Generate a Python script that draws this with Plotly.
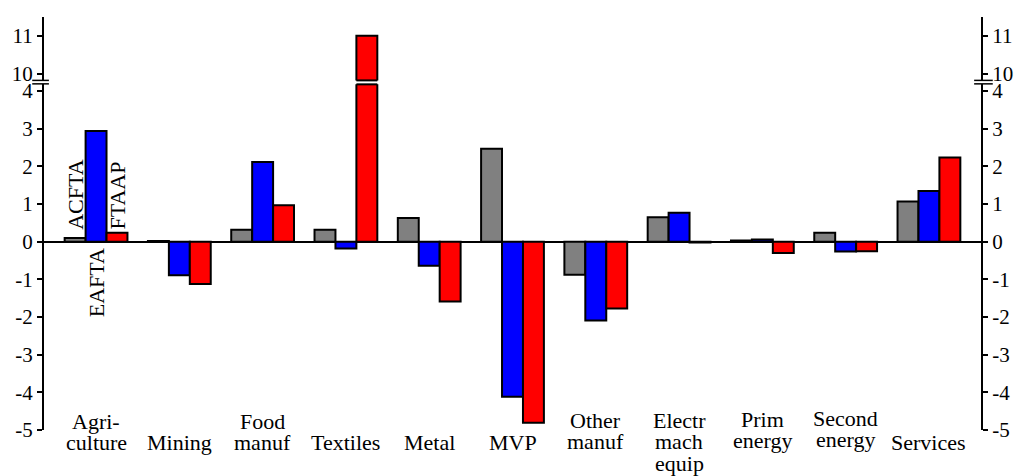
import plotly.graph_objects as go

# ---- data ----
categories = ["Agriculture", "Mining", "Food manuf", "Textiles", "Metal", "MVP",
              "Other manuf", "Electr mach equip", "Prim energy", "Second energy", "Services"]
labels = ["Agri-<br>culture", "Mining", "Food<br>manuf", "Textiles", "Metal", "MVP",
          "Other<br>manuf", "Electr<br>mach<br>equip", "Prim<br>energy", "Second<br>energy", "Services"]
series_names = ["ACFTA", "EAFTA", "FTAAP"]
acfta = [0.10, 0.02, 0.32, 0.32, 0.63, 2.47, -0.88, 0.65, 0.03, 0.24, 1.07]
eafta = [2.94, -0.89, 2.12, -0.18, -0.64, -4.12, -2.09, 0.77, 0.06, -0.26, 1.35]
ftaap = [0.24, -1.12, 0.97, 11.0, -1.59, -4.81, -1.77, -0.02, -0.30, -0.25, 2.24]
low_ticks = [-5, -4, -3, -2, -1, 0, 1, 2, 3, 4]
high_ticks = [10, 11]

# ---- style ----
colors = ["#808080", "#0000ff", "#ff0000"]
low_range = [-5, 4.18]
high_range = [9.82, 11.5]
bargap = 0.246
FONT = "Liberation Serif"
plot_top, plot_bottom = 13, 430
H = plot_bottom - plot_top
low_dom = [0, (plot_bottom - 81) / H]
high_dom = [(plot_bottom - 77) / H, 1]
# first-line centre (px from top) of each category label
label_y = [421, 442, 421, 442, 442, 442, 420, 420, 419, 418, 442]
line_step = 21.8

fig = go.Figure()
all_series = [acfta, eafta, ftaap]
for name, vals, col in zip(series_names, all_series, colors):
    for xa, ya in [("x", "y"), ("x2", "y2")]:
        fig.add_trace(go.Bar(
            x=categories, y=vals, name=name, xaxis=xa, yaxis=ya,
            marker=dict(color=col, line=dict(color="black", width=2)),
            showlegend=False, hoverinfo="x+y+name"))
fig.add_trace(go.Scatter(x=[], y=[], xaxis="x", yaxis="y3", showlegend=False))
fig.add_trace(go.Scatter(x=[], y=[], xaxis="x2", yaxis="y4", showlegend=False))

tickfont = dict(family=FONT, size=21, color="black")
common_y = dict(showline=True, linewidth=2, linecolor="black", ticks="outside",
                ticklen=5, tickwidth=1.5, tickcolor="black", showgrid=False,
                tickfont=tickfont)

fig.update_layout(
    width=1025, height=476,
    margin=dict(l=40, r=30, t=plot_top, b=476 - plot_bottom),
    plot_bgcolor="white", paper_bgcolor="white",
    barmode="group", bargap=bargap, bargroupgap=0,
    font=dict(family=FONT, size=20, color="black"),
    xaxis=dict(range=[-0.625, 10.625], showticklabels=False, ticks="",
               showline=False, showgrid=False, zeroline=False, anchor="y"),
    xaxis2=dict(matches="x", anchor="y2", showticklabels=False, ticks="",
                showline=False, showgrid=False, zeroline=False),
    yaxis=dict(domain=low_dom, range=low_range, tickvals=low_ticks,
               ticktext=[str(t) for t in low_ticks], zeroline=True,
               zerolinecolor="black", zerolinewidth=1.5, **common_y),
    yaxis2=dict(domain=high_dom, range=high_range, tickvals=high_ticks,
                ticktext=[str(t) for t in high_ticks], zeroline=False, **common_y),
    yaxis3=dict(overlaying="y", side="right", anchor="x", range=low_range,
                tickvals=low_ticks, ticktext=[str(t) for t in low_ticks],
                zeroline=False, **common_y),
    yaxis4=dict(overlaying="y2", side="right", anchor="x2", range=high_range,
                tickvals=high_ticks, ticktext=[str(t) for t in high_ticks],
                zeroline=False, **common_y),
)

# category labels (line by line, tight spacing)
for cat, lab, y0 in zip(categories, labels, label_y):
    for k, line in enumerate(lab.split("<br>")):
        fig.add_annotation(x=cat, xref="x", y=0, yref="paper", text=line,
                           showarrow=False, yanchor="middle", xanchor="center",
                           yshift=plot_bottom - (y0 + k * line_step),
                           font=dict(family=FONT, size=22, color="black"))

# series labels on the first group
w = (1 - bargap) / 3
px_per_cat = (1025 - 40 - 30) / 11.25
series_label_y = [1.24, -1.1, 1.24]
for s, (name, ly) in enumerate(zip(series_names, series_label_y)):
    fig.add_annotation(x=categories[0], xref="x", y=ly, yref="y", text=name,
                       showarrow=False, textangle=-90, xanchor="center", yanchor="middle",
                       xshift=(s - 1) * w * px_per_cat,
                       font=dict(family=FONT, size=22, color="black"))

# bar edges at the axis break
for s, vals in enumerate(all_series):
    for i, v in enumerate(vals):
        if v > low_range[1]:
            x0 = i + (s - 1) * w - w / 2
            x1 = x0 + w
            fig.add_shape(type="line", xref="x", yref="y domain", x0=x0, x1=x1,
                          y0=1, y1=1, line=dict(color="black", width=2))
            fig.add_shape(type="line", xref="x2", yref="y2 domain", x0=x0, x1=x1,
                          y0=0, y1=0, line=dict(color="black", width=2))

# break marks on both axes
for ypx in (77, 80.5):
    yp = (plot_bottom - ypx) / H
    fig.add_shape(type="line", xref="paper", yref="paper", x0=-12 / 955, x1=5 / 955,
                  y0=yp, y1=yp, line=dict(color="black", width=1.5))
    fig.add_shape(type="line", xref="paper", yref="paper", x0=1 - 7 / 955, x1=1 + 12 / 955,
                  y0=yp, y1=yp, line=dict(color="black", width=1.5))

fig.write_html("out.html", config={"displayModeBar": False},
               post_script="document.body.style.margin='0';document.body.style.overflow='hidden';")
